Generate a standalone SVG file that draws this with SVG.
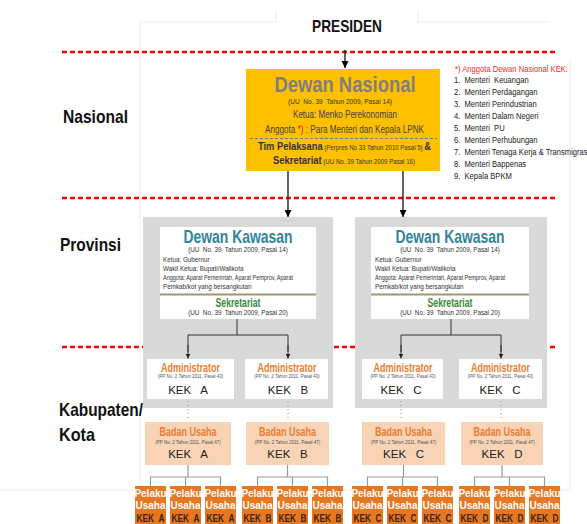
<svg xmlns="http://www.w3.org/2000/svg" width="587" height="524" viewBox="0 0 587 524">
  <defs>
    <marker id="arrow" viewBox="0 0 10 10" refX="10" refY="5" markerWidth="7" markerHeight="7" markerUnits="userSpaceOnUse" orient="auto">
      <path d="M0,0 L10,5 L0,10 z" fill="#000"/>
    </marker>
    <marker id="arrowSm" viewBox="0 0 10 10" refX="10" refY="5" markerWidth="5" markerHeight="5" markerUnits="userSpaceOnUse" orient="auto">
      <path d="M0,0 L10,5 L0,10 z" fill="#222"/>
    </marker>
  </defs>
  <style>
    text { font-family: "Liberation Sans Narrow", "Liberation Sans", Arial, sans-serif; white-space: pre; }
    .b { font-weight: bold; }
    .level { font-size: 19px; font-weight: bold; fill: #111; }
    .frame { fill: none; stroke: #ececec; stroke-width: 1; }
    .red { stroke: #ff0000; stroke-width: 2.5; stroke-dasharray: 5 3; fill: none; }
    .gray { fill: #d9d9d9; }
    .white { fill: #fff; }
    .conn { stroke: #111; stroke-width: 1.3; fill: none; }
    .connIn { stroke: #333; stroke-width: 1; fill: none; }
    .dots { stroke: #8c8c8c; stroke-width: 1; stroke-dasharray: 1 3; fill: none; }
    .brk { stroke: #9a9a9a; stroke-width: 1.2; fill: none; }
    .list { font-size: 9.5px; fill: #222; }
    .dk { fill: #31849b; font-size: 19px; font-weight: bold; }
    .tiny { font-size: 6.3px; fill: #333; }
    .sek { fill: #3a8a3a; font-size: 12px; font-weight: bold; }
    .adm { fill: #ed7d31; font-size: 13px; font-weight: bold; }
    .pp { font-size: 4.5px; fill: #555; }
    .kek { font-size: 11.5px; fill: #222; }
    .badan { fill: #f9d3b6; }
    .pel { fill: #e87722; }
    .pelT { fill: #fff; font-size: 10px; font-weight: bold; }
    .pelK { fill: #3a2410; font-size: 10px; font-weight: bold; }
  </style>

  <!-- faint page frame -->
  <path class="frame" d="M140,490 V22 H276 V10 M418,10 V22 H548 M570,60 V490 H0"/>

  <!-- level separators -->
  <g id="separators">
    <line class="red" x1="62" y1="52" x2="558" y2="52"/>
    <line class="red" x1="62" y1="198" x2="558" y2="198"/>
    <line class="red" x1="62" y1="347" x2="558" y2="347"/>
  </g>

  <!-- level labels -->
  <g id="labels">
    <text class="level" x="63" y="123" textLength="65" lengthAdjust="spacingAndGlyphs">Nasional</text>
    <text class="level" x="60" y="251" textLength="61" lengthAdjust="spacingAndGlyphs">Provinsi</text>
    <text class="level" x="59" y="416" textLength="84" lengthAdjust="spacingAndGlyphs">Kabupaten/</text>
    <text class="level" x="59" y="441" textLength="36" lengthAdjust="spacingAndGlyphs">Kota</text>
  </g>

  <!-- province / regency containers -->
  <g id="containers">
    <rect class="gray" x="143" y="217" width="190" height="191"/>
    <rect class="gray" x="355" y="217" width="192" height="191"/>
  </g>

  <g id="presiden">
    <text class="b" x="347" y="32" font-size="17" text-anchor="middle" fill="#111" textLength="70" lengthAdjust="spacingAndGlyphs">PRESIDEN</text>
  </g>

  <g id="dewan-nasional">
    <rect x="246" y="69" width="194" height="102" fill="#ffc000"/>
    <text class="b" x="345" y="92" font-size="22" fill="#7f7f7f" text-anchor="middle" textLength="141" lengthAdjust="spacingAndGlyphs">Dewan Nasional</text>
    <text x="340" y="103.5" font-size="8" fill="#333" text-anchor="middle" textLength="104" lengthAdjust="spacingAndGlyphs">(UU  No. 39  Tahun 2009, Pasal 14)</text>
    <text x="345" y="118" font-size="10" fill="#404040" text-anchor="middle" textLength="104" lengthAdjust="spacingAndGlyphs">Ketua: Menko Perekonomian</text>
    <text x="265" y="133" font-size="10" fill="#404040" textLength="159" lengthAdjust="spacingAndGlyphs">Anggota <tspan fill="#ff0000">*)</tspan> : Para Menteri dan Kepala LPNK</text>
    <line x1="250" y1="138.5" x2="437" y2="138.5" stroke="#5f7fa8" stroke-width="1" stroke-dasharray="3 2"/>
    <text x="258" y="149.5" fill="#333" textLength="173" lengthAdjust="spacingAndGlyphs"><tspan class="b" font-size="10">Tim Pelaksana</tspan><tspan font-size="6.5"> (Perpres No 33 Tahun 2010 Pasal 5) </tspan><tspan class="b" font-size="10">&amp;</tspan></text>
    <text x="273" y="163.5" fill="#333" textLength="142" lengthAdjust="spacingAndGlyphs"><tspan class="b" font-size="10">Sekretariat</tspan><tspan font-size="6.5"> (UU No. 39 Tahun 2009 Pasal 16)</tspan></text>
  </g>

  <g id="anggota-list">
    <text x="455" y="72" font-size="9.5" fill="#ff2a2a" textLength="113" lengthAdjust="spacingAndGlyphs">*) Anggota Dewan Nasional KEK:</text>
    <g transform="translate(454,0) scale(0.8,1)">
      <text class="list" x="0" y="83.5">1.  Menteri  Keuangan</text>
      <text class="list" x="0" y="95.5">2.  Menteri Perdagangan</text>
      <text class="list" x="0" y="107.5">3.  Menteri Perindustrian</text>
      <text class="list" x="0" y="119.5">4.  Menteri Dalam Negeri</text>
      <text class="list" x="0" y="131.5">5.  Menteri  PU</text>
      <text class="list" x="0" y="143.5">6.  Menteri Perhubungan</text>
      <text class="list" x="0" y="155.5">7.  Menteri Tenaga Kerja &amp; Transmigrasi</text>
      <text class="list" x="0" y="167.5">8.  Menteri Bappenas</text>
      <text class="list" x="0" y="179.5">9.  Kepala BPKM</text>
    </g>
  </g>

  <g id="dewan-kawasan-1">
    <rect class="white" x="160" y="227" width="156" height="92"/>
    <text class="dk" x="238" y="243" text-anchor="middle" textLength="109" lengthAdjust="spacingAndGlyphs">Dewan Kawasan</text>
    <text class="tiny" x="238" y="252" text-anchor="middle">(UU  No. 39  Tahun 2009, Pasal 14)</text>
    <text class="tiny" x="163" y="262">Ketua: Gubernur</text>
    <text class="tiny" x="163" y="271">Wakil Ketua: Bupati/Walikota</text>
    <text class="tiny" x="163" y="280" textLength="130" lengthAdjust="spacingAndGlyphs">Anggota: Aparat Pemerintah, Aparat Pemprov, Aparat</text>
    <text class="tiny" x="163" y="289">Pemkab/kot yang bersangkutan</text>
    <line x1="160" y1="294.5" x2="316" y2="294.5" stroke="#a3966a" stroke-width="2"/>
    <text class="sek" x="238" y="306.5" text-anchor="middle" textLength="45" lengthAdjust="spacingAndGlyphs">Sekretariat</text>
    <text class="tiny" x="238" y="315" text-anchor="middle">(UU  No. 39  Tahun 2009, Pasal 20)</text>
  </g>

  <g id="dewan-kawasan-2">
    <rect class="white" x="371" y="227" width="158" height="92"/>
    <text class="dk" x="450" y="243" text-anchor="middle" textLength="109" lengthAdjust="spacingAndGlyphs">Dewan Kawasan</text>
    <text class="tiny" x="450" y="252" text-anchor="middle">(UU  No. 39  Tahun 2009, Pasal 14)</text>
    <text class="tiny" x="375" y="262">Ketua: Gubernur</text>
    <text class="tiny" x="375" y="271">Wakil Ketua: Bupati/Walikota</text>
    <text class="tiny" x="375" y="280" textLength="130" lengthAdjust="spacingAndGlyphs">Anggota: Aparat Pemerintah, Aparat Pemprov, Aparat</text>
    <text class="tiny" x="375" y="289">Pemkab/kot yang bersangkutan</text>
    <line x1="371" y1="294.5" x2="529" y2="294.5" stroke="#a3966a" stroke-width="2"/>
    <text class="sek" x="450" y="306.5" text-anchor="middle" textLength="45" lengthAdjust="spacingAndGlyphs">Sekretariat</text>
    <text class="tiny" x="450" y="315" text-anchor="middle">(UU  No. 39  Tahun 2009, Pasal 20)</text>
  </g>

  <!-- administrators -->
  <g id="admin-a">
    <rect class="white" x="147" y="359" width="87" height="40"/>
    <text class="adm" x="190.5" y="372" text-anchor="middle" textLength="59" lengthAdjust="spacingAndGlyphs">Administrator</text>
    <text class="pp" x="190.5" y="378" text-anchor="middle">(PP No. 2 Tahun 2011, Pasal 43)</text>
    <text class="kek" x="188" y="394" text-anchor="middle">KEK   A</text>
  </g>
  <g id="admin-b">
    <rect class="white" x="245" y="359" width="83" height="40"/>
    <text class="adm" x="287" y="372" text-anchor="middle" textLength="59" lengthAdjust="spacingAndGlyphs">Administrator</text>
    <text class="pp" x="287" y="378" text-anchor="middle">(PP No. 2 Tahun 2011, Pasal 43)</text>
    <text class="kek" x="288" y="394" text-anchor="middle">KEK   B</text>
  </g>
  <g id="admin-c1">
    <rect class="white" x="362" y="359" width="81" height="40"/>
    <text class="adm" x="403" y="372" text-anchor="middle" textLength="59" lengthAdjust="spacingAndGlyphs">Administrator</text>
    <text class="pp" x="403" y="378" text-anchor="middle">(PP No. 2 Tahun 2011, Pasal 43)</text>
    <text class="kek" x="401" y="394" text-anchor="middle">KEK   C</text>
  </g>
  <g id="admin-c2">
    <rect class="white" x="459" y="359" width="83" height="40"/>
    <text class="adm" x="500.5" y="372" text-anchor="middle" textLength="59" lengthAdjust="spacingAndGlyphs">Administrator</text>
    <text class="pp" x="500.5" y="378" text-anchor="middle">(PP No. 2 Tahun 2011, Pasal 43)</text>
    <text class="kek" x="500" y="394" text-anchor="middle">KEK   C</text>
  </g>

  <!-- business entities -->
  <g id="badan-a">
    <rect class="badan" x="145" y="422" width="86" height="43"/>
    <text class="adm" x="188" y="436" text-anchor="middle" textLength="57" lengthAdjust="spacingAndGlyphs">Badan Usaha</text>
    <text class="pp" x="188" y="444" text-anchor="middle">(PP No. 2 Tahun 2011, Pasal 47)</text>
    <text class="kek" x="188" y="458" text-anchor="middle">KEK   A</text>
  </g>
  <g id="badan-b">
    <rect class="badan" x="246" y="422" width="83" height="43"/>
    <text class="adm" x="287.5" y="436" text-anchor="middle" textLength="57" lengthAdjust="spacingAndGlyphs">Badan Usaha</text>
    <text class="pp" x="287.5" y="444" text-anchor="middle">(PP No. 2 Tahun 2011, Pasal 47)</text>
    <text class="kek" x="287.5" y="458" text-anchor="middle">KEK   B</text>
  </g>
  <g id="badan-c">
    <rect class="badan" x="362" y="422" width="83" height="43"/>
    <text class="adm" x="403.5" y="436" text-anchor="middle" textLength="57" lengthAdjust="spacingAndGlyphs">Badan Usaha</text>
    <text class="pp" x="403.5" y="444" text-anchor="middle">(PP No. 2 Tahun 2011, Pasal 47)</text>
    <text class="kek" x="403.5" y="458" text-anchor="middle">KEK   C</text>
  </g>
  <g id="badan-d">
    <rect class="badan" x="461" y="422" width="82" height="43"/>
    <text class="adm" x="502" y="436" text-anchor="middle" textLength="57" lengthAdjust="spacingAndGlyphs">Badan Usaha</text>
    <text class="pp" x="502" y="444" text-anchor="middle">(PP No. 2 Tahun 2011, Pasal 47)</text>
    <text class="kek" x="502" y="458" text-anchor="middle">KEK   D</text>
  </g>

  <!-- business actors -->
  <g id="pelaku-a1"><rect class="pel" x="135" y="486" width="31" height="44"/><text class="pelT" x="150.5" y="497" text-anchor="middle">Pelaku</text><text class="pelT" x="150.5" y="509" text-anchor="middle">Usaha</text><text class="pelK" x="150.5" y="522" text-anchor="middle" textLength="28" lengthAdjust="spacingAndGlyphs">KEK  A</text></g>
  <g id="pelaku-a2"><rect class="pel" x="170" y="486" width="31" height="44"/><text class="pelT" x="185.5" y="497" text-anchor="middle">Pelaku</text><text class="pelT" x="185.5" y="509" text-anchor="middle">Usaha</text><text class="pelK" x="185.5" y="522" text-anchor="middle" textLength="28" lengthAdjust="spacingAndGlyphs">KEK  A</text></g>
  <g id="pelaku-a3"><rect class="pel" x="205" y="486" width="31" height="44"/><text class="pelT" x="220.5" y="497" text-anchor="middle">Pelaku</text><text class="pelT" x="220.5" y="509" text-anchor="middle">Usaha</text><text class="pelK" x="220.5" y="522" text-anchor="middle" textLength="28" lengthAdjust="spacingAndGlyphs">KEK  A</text></g>
  <g id="pelaku-b1"><rect class="pel" x="242" y="486" width="31" height="44"/><text class="pelT" x="257.5" y="497" text-anchor="middle">Pelaku</text><text class="pelT" x="257.5" y="509" text-anchor="middle">Usaha</text><text class="pelK" x="257.5" y="522" text-anchor="middle" textLength="28" lengthAdjust="spacingAndGlyphs">KEK  B</text></g>
  <g id="pelaku-b2"><rect class="pel" x="277" y="486" width="31" height="44"/><text class="pelT" x="292.5" y="497" text-anchor="middle">Pelaku</text><text class="pelT" x="292.5" y="509" text-anchor="middle">Usaha</text><text class="pelK" x="292.5" y="522" text-anchor="middle" textLength="28" lengthAdjust="spacingAndGlyphs">KEK  B</text></g>
  <g id="pelaku-b3"><rect class="pel" x="312" y="486" width="31" height="44"/><text class="pelT" x="327.5" y="497" text-anchor="middle">Pelaku</text><text class="pelT" x="327.5" y="509" text-anchor="middle">Usaha</text><text class="pelK" x="327.5" y="522" text-anchor="middle" textLength="28" lengthAdjust="spacingAndGlyphs">KEK  B</text></g>
  <g id="pelaku-c1"><rect class="pel" x="352" y="486" width="31" height="44"/><text class="pelT" x="367.5" y="497" text-anchor="middle">Pelaku</text><text class="pelT" x="367.5" y="509" text-anchor="middle">Usaha</text><text class="pelK" x="367.5" y="522" text-anchor="middle" textLength="28" lengthAdjust="spacingAndGlyphs">KEK  C</text></g>
  <g id="pelaku-c2"><rect class="pel" x="387" y="486" width="31" height="44"/><text class="pelT" x="402.5" y="497" text-anchor="middle">Pelaku</text><text class="pelT" x="402.5" y="509" text-anchor="middle">Usaha</text><text class="pelK" x="402.5" y="522" text-anchor="middle" textLength="28" lengthAdjust="spacingAndGlyphs">KEK  C</text></g>
  <g id="pelaku-c3"><rect class="pel" x="422" y="486" width="31" height="44"/><text class="pelT" x="437.5" y="497" text-anchor="middle">Pelaku</text><text class="pelT" x="437.5" y="509" text-anchor="middle">Usaha</text><text class="pelK" x="437.5" y="522" text-anchor="middle" textLength="28" lengthAdjust="spacingAndGlyphs">KEK  C</text></g>
  <g id="pelaku-d1"><rect class="pel" x="459" y="486" width="31" height="44"/><text class="pelT" x="474.5" y="497" text-anchor="middle">Pelaku</text><text class="pelT" x="474.5" y="509" text-anchor="middle">Usaha</text><text class="pelK" x="474.5" y="522" text-anchor="middle" textLength="28" lengthAdjust="spacingAndGlyphs">KEK  D</text></g>
  <g id="pelaku-d2"><rect class="pel" x="494" y="486" width="31" height="44"/><text class="pelT" x="509.5" y="497" text-anchor="middle">Pelaku</text><text class="pelT" x="509.5" y="509" text-anchor="middle">Usaha</text><text class="pelK" x="509.5" y="522" text-anchor="middle" textLength="28" lengthAdjust="spacingAndGlyphs">KEK  D</text></g>
  <g id="pelaku-d3"><rect class="pel" x="529" y="486" width="31" height="44"/><text class="pelT" x="544.5" y="497" text-anchor="middle">Pelaku</text><text class="pelT" x="544.5" y="509" text-anchor="middle">Usaha</text><text class="pelK" x="544.5" y="522" text-anchor="middle" textLength="28" lengthAdjust="spacingAndGlyphs">KEK  D</text></g>

  <g id="connectors">
    <line class="conn" x1="345" y1="50" x2="345" y2="68" marker-end="url(#arrow)"/>
    <line class="conn" x1="288" y1="171" x2="288" y2="217" marker-end="url(#arrow)"/>
    <line class="conn" x1="403" y1="171" x2="403" y2="217" marker-end="url(#arrow)"/>

    <path class="connIn" d="M237,319 V335 M188,352 V335 H288 V352"/>
    <line class="connIn" x1="188" y1="345" x2="188" y2="358.5" marker-end="url(#arrowSm)"/>
    <line class="connIn" x1="288" y1="345" x2="288" y2="358.5" marker-end="url(#arrowSm)"/>
    <path class="connIn" d="M451,319 V335 M401,352 V335 H501 V352"/>
    <line class="connIn" x1="401" y1="345" x2="401" y2="358.5" marker-end="url(#arrowSm)"/>
    <line class="connIn" x1="501" y1="345" x2="501" y2="358.5" marker-end="url(#arrowSm)"/>

    <line class="dots" x1="188" y1="401" x2="188" y2="421"/>
    <line class="dots" x1="288" y1="401" x2="288" y2="421"/>
    <line class="dots" x1="401" y1="401" x2="401" y2="421"/>
    <line class="dots" x1="501" y1="401" x2="501" y2="421"/>

    <path class="brk" d="M188,465 V477 M150.5,486 V477 H220.5 V486 M185.5,477 V486"/>
    <path class="brk" d="M287.5,465 V477 M257.5,486 V477 H327.5 V486 M292.5,477 V486"/>
    <path class="brk" d="M403.5,465 V477 M367.5,486 V477 H437.5 V486 M402.5,477 V486"/>
    <path class="brk" d="M502,465 V477 M474.5,486 V477 H544.5 V486 M509.5,477 V486"/>
  </g>
</svg>
